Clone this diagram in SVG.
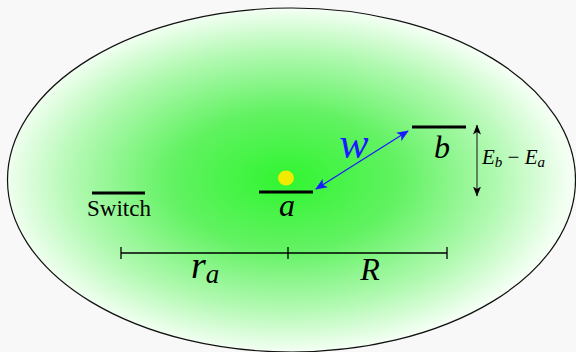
<svg xmlns="http://www.w3.org/2000/svg" width="576" height="352" viewBox="0 0 576 352">
<defs>
<radialGradient id="glow" cx="0.49" cy="0.5" r="0.5">
<stop offset="0" stop-color="#30f530"/>
<stop offset="0.4" stop-color="#62f262"/>
<stop offset="0.75" stop-color="#b2f9b2"/>
<stop offset="1" stop-color="#f4fff4"/>
</radialGradient>
<marker id="bh" viewBox="0 0 12 10" refX="11" refY="5" markerWidth="12" markerHeight="10" markerUnits="userSpaceOnUse" orient="auto-start-reverse">
<path d="M0,0 L12,5 L0,10 L3,5 Z" fill="#1a1aff"/>
</marker>
<marker id="kh" viewBox="0 0 10 8" refX="9.5" refY="4" markerWidth="10" markerHeight="8" markerUnits="userSpaceOnUse" orient="auto-start-reverse">
<path d="M0,0 L10,4 L0,8 L2.5,4 Z" fill="#000"/>
</marker>
<style>
.lvl{stroke:#000;stroke-width:3.2;fill:none}
.math{font-family:'Liberation Serif','DejaVu Serif',serif;font-style:italic;fill:#000}
.rm{font-family:'Liberation Serif','DejaVu Serif',serif;fill:#000}
.bar{stroke:#000;stroke-width:1.3;fill:none}
</style>
</defs>
<rect width="576" height="352" fill="#f8f8f8"/>
<g id="region">
<ellipse cx="291.5" cy="180" rx="284" ry="172" fill="url(#glow)" stroke="#111" stroke-width="1.2"/>
</g>
<g id="switch">
<line class="lvl" x1="92" y1="193" x2="145" y2="193"/>
<text class="rm" x="119" y="216" font-size="23" text-anchor="middle">Switch</text>
</g>
<g id="level-a">
<line class="lvl" x1="259" y1="192" x2="313" y2="192"/>
<ellipse cx="286" cy="178" rx="8" ry="7.5" fill="#f2ea00"/>
<text class="math" x="287" y="216" font-size="32" text-anchor="middle">a</text>
</g>
<g id="level-b">
<line class="lvl" x1="412" y1="127" x2="466" y2="127"/>
<text class="math" x="442" y="158" font-size="32" text-anchor="middle">b</text>
</g>
<g id="connectors">
<line x1="316" y1="189" x2="408" y2="131" stroke="#1a1aff" stroke-width="1.2" marker-start="url(#bh)" marker-end="url(#bh)"/>
<text class="math" x="354" y="158" font-size="44" text-anchor="middle" style="fill:#1a1aff">w</text>
<line x1="477" y1="125" x2="477" y2="196" stroke="#333" stroke-width="1.2" marker-start="url(#kh)" marker-end="url(#kh)"/>
<text class="math" x="482" y="164" font-size="21">E<tspan font-size="15" dy="3">b</tspan><tspan font-style="normal" dy="-3"> − </tspan>E<tspan font-size="15" dy="3">a</tspan></text>
</g>
<g id="scale">
<line class="bar" x1="121" y1="253" x2="447" y2="253"/>
<line class="bar" x1="121" y1="247" x2="121" y2="259"/>
<line class="bar" x1="288" y1="247" x2="288" y2="259"/>
<line class="bar" x1="447" y1="247" x2="447" y2="259"/>
<text class="math" x="191" y="278" font-size="38">r<tspan font-size="27" dy="5">a</tspan></text>
<text class="math" x="370" y="280" font-size="32" text-anchor="middle">R</text>
</g>
</svg>
